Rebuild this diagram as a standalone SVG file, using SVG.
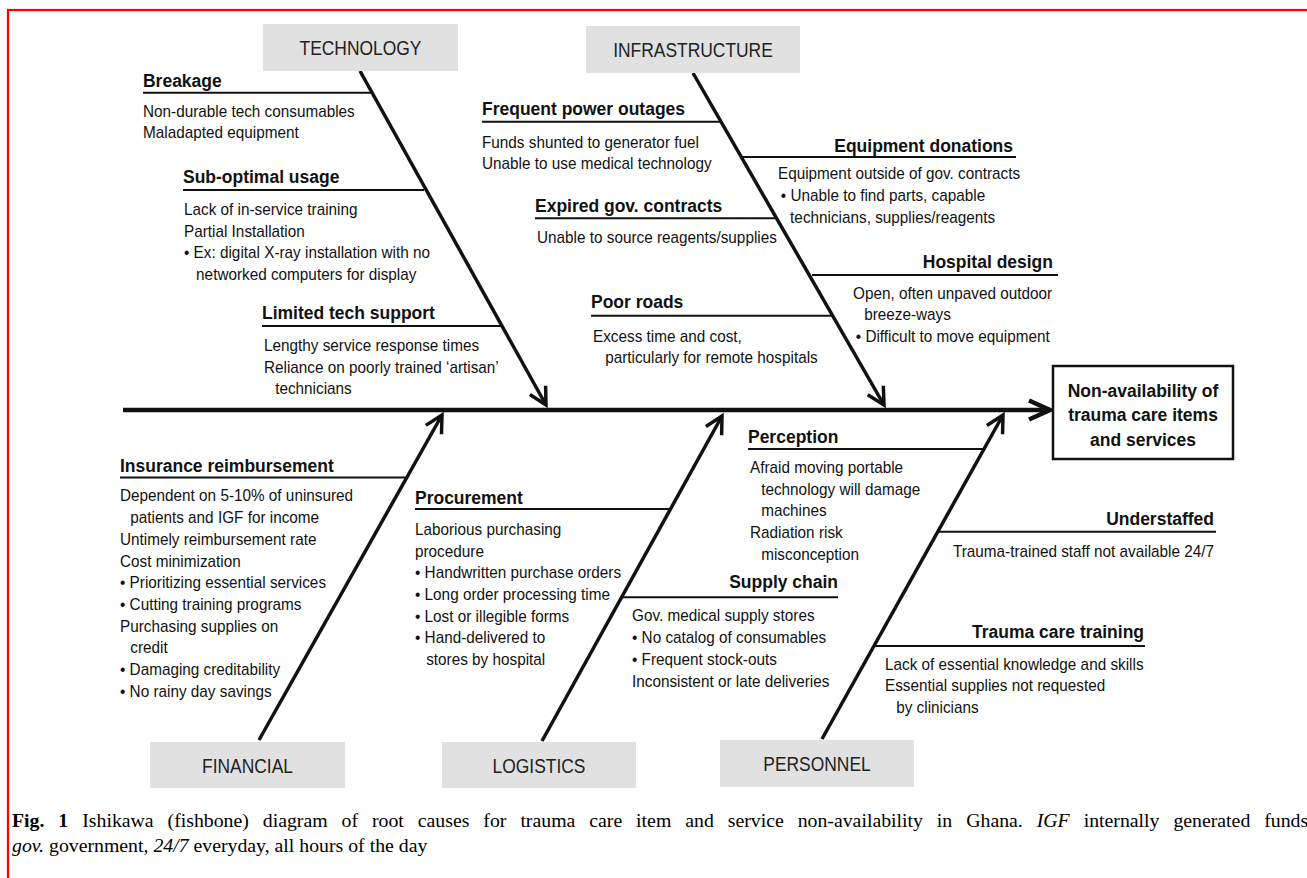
<svg xmlns="http://www.w3.org/2000/svg" width="1307" height="878" viewBox="0 0 1307 878">
<defs>
<style>
.t{font-family:"Liberation Sans",Arial,sans-serif;font-size:16.4px;fill:#111;transform-box:fill-box;transform-origin:left center;transform:scaleX(0.933)}
.h{font-family:"Liberation Sans",Arial,sans-serif;font-size:19px;font-weight:bold;fill:#111;transform-box:fill-box;transform-origin:left center;transform:scaleX(0.921)}
.e{text-anchor:end;transform-origin:right center}
.m{text-anchor:middle;transform-origin:center}
.lbl{font-family:"Liberation Sans",Arial,sans-serif;font-size:21px;fill:#222;text-anchor:middle;transform-box:fill-box;transform-origin:center;transform:scaleX(0.83)}
.cat{fill:#e1e1e1}
.ul{stroke:#111;stroke-width:2}
.bone{stroke:#111;stroke-width:3.5;fill:none;marker-end:url(#ah)}
.spine{stroke:#111;stroke-width:4.5;fill:none;marker-end:url(#ahb)}
.cap{font-family:"Liberation Serif","Times New Roman",serif;font-size:19.8px;fill:#000}
</style>
<marker id="ah" markerUnits="userSpaceOnUse" orient="auto" refX="0" refY="0" markerWidth="30" markerHeight="30" overflow="visible">
<path d="M-17,-9 L0,0 L-17,9" fill="none" stroke="#111" stroke-width="3.5" stroke-linejoin="miter"/>
</marker>
<marker id="ahb" markerUnits="userSpaceOnUse" orient="auto" refX="0" refY="0" markerWidth="30" markerHeight="30" overflow="visible">
<path d="M-21,-9.5 L0,0 L-21,9.5" fill="none" stroke="#111" stroke-width="4.5" stroke-linejoin="miter"/>
</marker>
</defs>
<rect x="8" y="10" width="1400" height="1000" fill="none" stroke="#f00" stroke-width="2.2"/>

<g id="connectors">
<line class="spine" x1="123" y1="410" x2="1050" y2="410"/>
<line class="bone" x1="360" y1="71" x2="546" y2="405"/>
<line class="bone" x1="693" y1="73" x2="884" y2="405"/>
<line class="bone" x1="259" y1="740" x2="442" y2="415"/>
<line class="bone" x1="542" y1="741" x2="722" y2="416"/>
<line class="bone" x1="822" y1="739" x2="1003" y2="415"/>
</g>

<g id="technology"><rect class="cat" x="263" y="24" width="195" height="47"/><text class="lbl" x="360.5" y="55">TECHNOLOGY</text></g>
<g id="infrastructure"><rect class="cat" x="586" y="26" width="214" height="47"/><text class="lbl" x="693" y="57">INFRASTRUCTURE</text></g>
<g id="financial"><rect class="cat" x="150" y="742" width="195" height="46"/><text class="lbl" x="247.5" y="773">FINANCIAL</text></g>
<g id="logistics"><rect class="cat" x="442" y="742" width="194" height="46"/><text class="lbl" x="539" y="773">LOGISTICS</text></g>
<g id="personnel"><rect class="cat" x="720" y="740" width="194" height="47"/><text class="lbl" x="817" y="771">PERSONNEL</text></g>

<g id="effect"><rect x="1053" y="366" width="180" height="93" fill="#fff" stroke="#111" stroke-width="2.5"/>
<text class="h m"><tspan x="1143" y="397">Non-availability of</tspan><tspan x="1143" y="421.5">trauma care items</tspan><tspan x="1143" y="446">and services</tspan></text></g>

<g id="breakage"><line class="ul" x1="143" y1="92.7" x2="372" y2="92.7"/>
<text class="h" x="143" y="87">Breakage</text>
<text class="t"><tspan x="143" y="117">Non-durable tech consumables</tspan><tspan x="143" y="138">Maladapted equipment</tspan></text></g>

<g id="suboptimal"><line class="ul" x1="183" y1="190" x2="424" y2="190"/>
<text class="h" x="183" y="183">Sub-optimal usage</text>
<text class="t"><tspan x="184" y="215">Lack of in-service training</tspan><tspan x="184" y="236.7">Partial Installation</tspan><tspan x="184" y="258.4">• Ex: digital X-ray installation with no</tspan><tspan x="197" y="280">networked computers for display</tspan></text></g>

<g id="techsupport"><line class="ul" x1="262" y1="326" x2="502" y2="326"/>
<text class="h" x="262" y="319">Limited tech support</text>
<text class="t"><tspan x="264" y="351">Lengthy service response times</tspan><tspan x="264" y="372.7">Reliance on poorly trained ‘artisan’</tspan><tspan x="276" y="394.4">technicians</tspan></text></g>

<g id="power"><line class="ul" x1="482" y1="121.7" x2="721" y2="121.7"/>
<text class="h" x="482" y="115">Frequent power outages</text>
<text class="t"><tspan x="482" y="148">Funds shunted to generator fuel</tspan><tspan x="482" y="169">Unable to use medical technology</tspan></text></g>

<g id="donations"><line class="ul" x1="742" y1="157" x2="1016" y2="157"/>
<text class="h e" x="1013" y="151.7">Equipment donations</text>
<text class="t"><tspan x="778" y="179">Equipment outside of gov. contracts</tspan><tspan x="781" y="201">• Unable to find parts, capable</tspan><tspan x="791" y="223">technicians, supplies/reagents</tspan></text></g>

<g id="contracts"><line class="ul" x1="535" y1="218.3" x2="776" y2="218.3"/>
<text class="h" x="535" y="212">Expired gov. contracts</text>
<text class="t" x="537" y="243">Unable to source reagents/supplies</text></g>

<g id="hospitaldesign"><line class="ul" x1="812" y1="275" x2="1058" y2="275"/>
<text class="h e" x="1053" y="268">Hospital design</text>
<text class="t"><tspan x="853" y="299">Open, often unpaved outdoor</tspan><tspan x="865" y="320.5">breeze-ways</tspan><tspan x="856" y="342">• Difficult to move equipment</tspan></text></g>

<g id="roads"><line class="ul" x1="591" y1="315.7" x2="833" y2="315.7"/>
<text class="h" x="591" y="308">Poor roads</text>
<text class="t"><tspan x="593" y="341.7">Excess time and cost,</tspan><tspan x="606" y="363">particularly for remote hospitals</tspan></text></g>

<g id="insurance"><line class="ul" x1="120" y1="477.5" x2="407" y2="477.5"/>
<text class="h" x="120" y="471.7">Insurance reimbursement</text>
<text class="t"><tspan x="120" y="501.5">Dependent on 5-10% of uninsured</tspan><tspan x="131" y="523.2">patients and IGF for income</tspan><tspan x="120" y="544.9">Untimely reimbursement rate</tspan><tspan x="120" y="566.6">Cost minimization</tspan><tspan x="120" y="588.3">• Prioritizing essential services</tspan><tspan x="120" y="610">• Cutting training programs</tspan><tspan x="120" y="631.7">Purchasing supplies on</tspan><tspan x="131" y="653.4">credit</tspan><tspan x="120" y="675.1">• Damaging creditability</tspan><tspan x="120" y="696.8">• No rainy day savings</tspan></text></g>

<g id="procurement"><line class="ul" x1="415" y1="509" x2="671" y2="509"/>
<text class="h" x="415" y="504">Procurement</text>
<text class="t"><tspan x="415" y="535">Laborious purchasing</tspan><tspan x="415" y="556.7">procedure</tspan><tspan x="415" y="578.4">• Handwritten purchase orders</tspan><tspan x="415" y="600.1">• Long order processing time</tspan><tspan x="415" y="621.8">• Lost or illegible forms</tspan><tspan x="415" y="643.5">• Hand-delivered to</tspan><tspan x="427" y="665.2">stores by hospital</tspan></text></g>

<g id="perception"><line class="ul" x1="748" y1="449" x2="985" y2="449"/>
<text class="h" x="748" y="442.7">Perception</text>
<text class="t"><tspan x="750" y="473">Afraid moving portable</tspan><tspan x="762" y="494.7">technology will damage</tspan><tspan x="762" y="516.4">machines</tspan><tspan x="750" y="538">Radiation risk</tspan><tspan x="762" y="559.8">misconception</tspan></text></g>

<g id="supplychain"><line class="ul" x1="622" y1="597.3" x2="838" y2="597.3"/>
<text class="h e" x="838" y="588.3">Supply chain</text>
<text class="t"><tspan x="632" y="621.5">Gov. medical supply stores</tspan><tspan x="632" y="643.2">• No catalog of consumables</tspan><tspan x="632" y="664.9">• Frequent stock-outs</tspan><tspan x="632" y="686.6">Inconsistent or late deliveries</tspan></text></g>

<g id="understaffed"><line class="ul" x1="939" y1="531.7" x2="1216" y2="531.7"/>
<text class="h e" x="1214" y="525">Understaffed</text>
<text class="t e" x="1214" y="557">Trauma-trained staff not available 24/7</text></g>

<g id="training"><line class="ul" x1="875" y1="646" x2="1145" y2="646"/>
<text class="h e" x="1144" y="638.3">Trauma care training</text>
<text class="t"><tspan x="885" y="670">Lack of essential knowledge and skills</tspan><tspan x="885" y="691.5">Essential supplies not requested</tspan><tspan x="897" y="713">by clinicians</tspan></text></g>

<g id="caption">
<text class="cap" x="12" y="827" word-spacing="9"><tspan font-weight="bold">Fig. 1</tspan>  Ishikawa (fishbone) diagram of root causes for trauma care item and service non-availability in Ghana. <tspan font-style="italic">IGF</tspan> internally generated funds</text>
<text class="cap" x="12" y="852"><tspan font-style="italic">gov.</tspan> government, <tspan font-style="italic">24/7</tspan> everyday, all hours of the day</text>
</g>
</svg>
